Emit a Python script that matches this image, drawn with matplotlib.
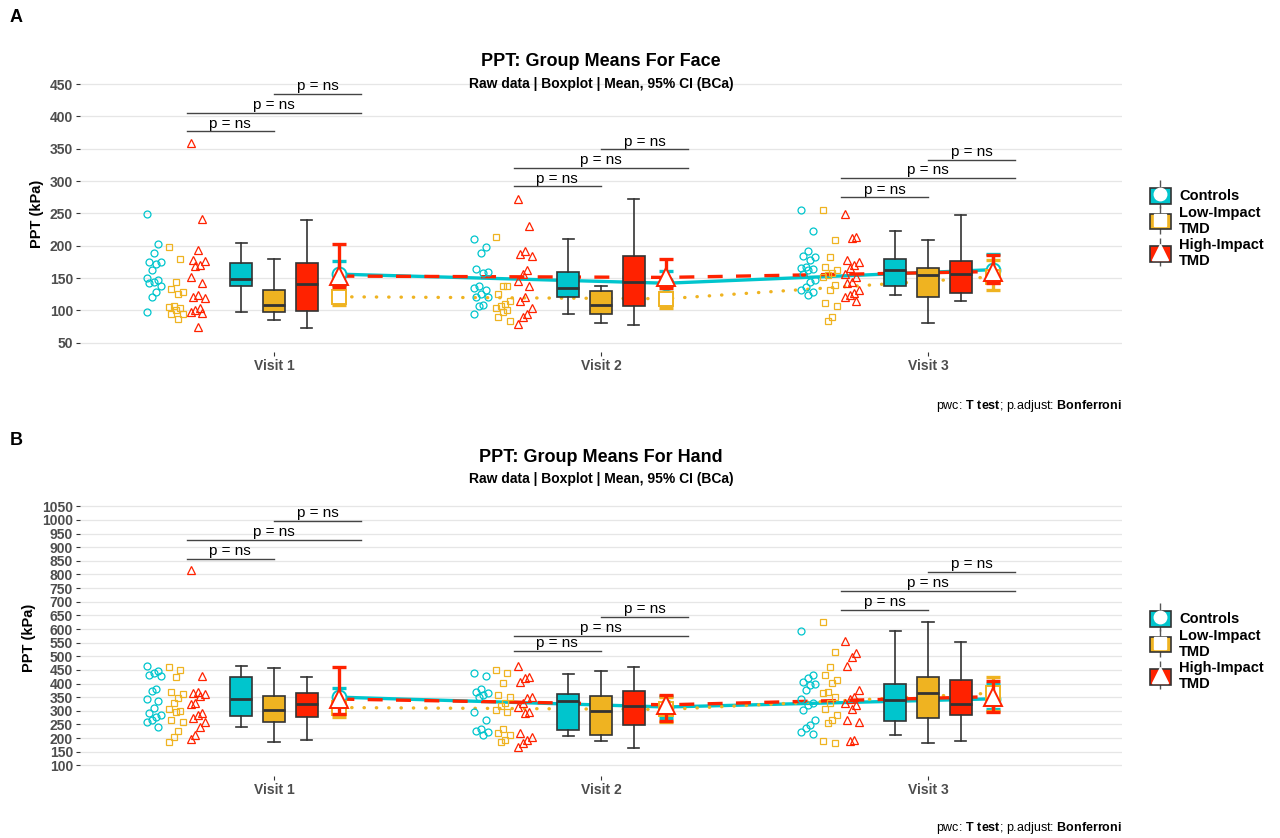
import numpy as np
import matplotlib.pyplot as plt
from matplotlib.patches import Patch
from matplotlib.lines import Line2D

plt.rcParams['font.family'] = ['Liberation Sans', 'DejaVu Sans']
plt.rcParams['mathtext.fontset'] = 'custom'
plt.rcParams['mathtext.rm'] = 'Liberation Sans'
plt.rcParams['mathtext.bf'] = 'Liberation Sans:bold'

visits = ['Visit 1', 'Visit 2', 'Visit 3']
groups = ['Controls', 'Low-Impact\nTMD', 'High-Impact\nTMD']
colors = ['#00C5CD', '#EFB321', '#FF2200']
markers = ['o', 's', '^']

# ---- Face PPT (kPa), raw values per visit ----
face_ctrl = [[249, 203, 189, 175, 175, 172, 162, 150, 147, 144, 142, 138, 129, 120, 98],
             [211, 198, 188, 164, 160, 158, 138, 134, 132, 126, 121, 120, 108, 107, 94],
             [256, 223, 192, 184, 182, 178, 167, 165, 164, 162, 156, 147, 144, 136, 132, 129, 124]]
face_low = [[198, 180, 144, 133, 129, 126, 107, 105, 103, 100, 95, 94, 86],
            [213, 138, 137, 125, 114, 110, 107, 103, 100, 97, 90, 83],
            [256, 209, 182, 167, 163, 158, 155, 152, 139, 132, 112, 107, 90, 83]]
face_high = [[359, 241, 194, 178, 176, 170, 168, 152, 142, 124, 121, 119, 103, 100, 98, 96, 75],
             [273, 231, 192, 187, 184, 162, 156, 146, 137, 120, 115, 104, 94, 90, 79],
             [249, 214, 212, 178, 175, 170, 165, 156, 152, 144, 142, 132, 127, 124, 120, 115]]

# box stats: (whisker low, q1, median, q3, whisker high)
face_box_ctrl = [(97, 137, 148, 174, 204), (94, 120, 134, 160, 211), (123, 138, 163, 180, 223)]
face_box_low = [(85, 97, 108, 132, 179), (81, 94, 108, 130, 137), (81, 121, 155, 166, 209)]
face_box_high = [(73, 99, 141, 173, 240), (78, 107, 144, 184, 272), (115, 127, 156, 176, 247)]

# means with 95% CI (BCa)
face_mean = [[156, 142, 163], [121, 118, 152], [153, 151, 160]]
face_ci_lo = [[140, 128, 145], [108, 103, 131], [136, 134, 143]]
face_ci_hi = [[177, 161, 187], [143, 128, 178], [202, 179, 186]]

# ---- Hand PPT (kPa) ----
hand_ctrl = [[464, 447, 440, 431, 427, 379, 374, 342, 337, 309, 293, 284, 278, 266, 260, 239],
             [437, 428, 379, 370, 364, 358, 352, 297, 266, 232, 226, 223, 211],
             [594, 431, 419, 407, 398, 395, 376, 342, 327, 321, 303, 266, 248, 236, 224, 214]]
hand_low = [[459, 450, 423, 370, 362, 346, 327, 305, 300, 297, 266, 260, 227, 203, 187],
            [450, 440, 401, 358, 352, 330, 318, 303, 297, 232, 217, 211, 193, 187],
            [627, 517, 459, 431, 413, 403, 370, 364, 352, 327, 305, 285, 266, 254, 189, 181]]
hand_high = [[816, 428, 370, 366, 361, 354, 330, 325, 291, 285, 272, 260, 242, 211, 195],
             [464, 425, 419, 407, 352, 346, 327, 315, 297, 293, 217, 205, 193, 181, 166],
             [557, 511, 499, 464, 376, 352, 342, 327, 321, 305, 266, 260, 193, 190]]

hand_box_ctrl = [(239, 281, 342, 425, 464), (208, 230, 337, 362, 434), (211, 264, 340, 398, 594)]
hand_box_low = [(186, 260, 303, 354, 456), (188, 211, 299, 354, 447), (181, 272, 366, 423, 626)]
hand_box_high = [(193, 276, 324, 364, 425), (165, 248, 319, 374, 459), (189, 284, 324, 413, 553)]

hand_mean = [[350, 314, 344], [312, 305, 365], [343, 322, 352]]
hand_ci_lo = [[300, 275, 308], [278, 258, 300], [290, 262, 297]]
hand_ci_hi = [[383, 355, 400], [328, 352, 425], [462, 358, 408]]

# pairwise comparison bracket heights (all p = ns)
face_brackets = [[377, 405, 435], [292, 320, 349], [275, 305, 333]]
hand_brackets = [[857, 926, 996], [520, 575, 644], [670, 739, 809]]


def jitter(n):
    return (np.array([(i * 5) % 7 for i in range(n)]) - 3) * 0.007


def draw_panel(ax, raw, boxes, means, ci_lo, ci_hi, brackets, ylim, yticks):
    xs = np.arange(1, 4)
    # connecting lines of the means
    styles = ['-', (0, (0.1, 3.6)), (0, (4.5, 4))]
    caps = ['butt', 'round', 'butt']
    for g in range(3):
        ax.plot(xs + 0.2, means[g], color=colors[g], lw=2.4, ls=styles[g],
                zorder=2, solid_capstyle='butt', dash_capstyle=caps[g])
    # raw points
    for g in range(3):
        for v in range(3):
            vals = raw[g][v]
            px = v + 1 - 0.367 + g * 0.067 + jitter(len(vals))
            ax.plot(px, vals, ls='none', marker=markers[g], ms=5 if g != 2 else 6,
                    mfc='none', mec=colors[g], mew=0.9, zorder=3)
    # boxplots
    for g in range(3):
        stats = []
        for v in range(3):
            lo, q1, med, q3, hi = boxes[g][v]
            stats.append(dict(whislo=lo, q1=q1, med=med, q3=q3, whishi=hi))
        ax.bxp(stats, positions=xs - 0.1 + g * 0.1, widths=0.067, capwidths=0.035,
               showfliers=False, patch_artist=True, manage_ticks=False,
               boxprops=dict(facecolor=colors[g], edgecolor='#333333', lw=1.2),
               medianprops=dict(color='#333333', lw=2.0),
               whiskerprops=dict(color='#333333', lw=1.2),
               capprops=dict(color='#333333', lw=1.2), zorder=4)
    # means with CI
    msz = [10, 9.5, 13]
    for g in range(3):
        m = np.array(means[g])
        err = [m - np.array(ci_lo[g]), np.array(ci_hi[g]) - m]
        ax.errorbar(xs + 0.2, m, yerr=err, fmt='none', ecolor=colors[g],
                    elinewidth=2.4, capsize=5, capthick=2.4, zorder=5 + g)
        ax.plot(xs + 0.2, m, ls='none', marker=markers[g], ms=msz[g], mfc='white',
                mec=colors[g], mew=1.4, zorder=5.5 + g)
    # significance brackets
    pairs = [(-0.267, 0.0), (-0.267, 0.267), (0.0, 0.267)]
    for v in range(3):
        for (a, b), yb in zip(pairs, brackets[v]):
            ax.plot([v + 1 + a, v + 1 + b], [yb, yb], color='#444444', lw=1.0, zorder=6)
            ax.annotate('p = ns', xy=(v + 1 + (a + b) / 2, yb), xytext=(0, 0.5),
                        textcoords='offset points', ha='center', va='bottom',
                        fontsize=11, color='black')

    ax.set_xlim(0.407, 3.593)
    ax.set_ylim(*ylim)
    ax.set_xticks(xs)
    ax.set_xticklabels(visits, fontweight='bold', color='#4D4D4D', fontsize=10)
    ax.set_yticks(yticks)
    ax.set_yticklabels([str(t) for t in yticks], fontweight='bold', color='#4D4D4D', fontsize=10)
    ax.tick_params(length=3, color='#333333', width=0.8, pad=2)
    ax.grid(axis='y', color='#E6E6E6', lw=0.9)
    ax.set_axisbelow(True)
    for s in ax.spines.values():
        s.set_visible(False)
    ax.set_ylabel('PPT (kPa)', fontweight='bold', fontsize=10.5, labelpad=4)


fig = plt.figure(figsize=(12.8, 8.38), dpi=100)
H = 838.0
ax1 = fig.add_axes([80 / 1280, 1 - 352.4 / H, 1042 / 1280, 276.1 / H])
ax2 = fig.add_axes([80 / 1280, 1 - 775.7 / H, 1042 / 1280, 276.2 / H])

draw_panel(ax1, [face_ctrl, face_low, face_high], [face_box_ctrl, face_box_low, face_box_high],
           face_mean, face_ci_lo, face_ci_hi, face_brackets, (35, 462), list(range(50, 451, 50)))
draw_panel(ax2, [hand_ctrl, hand_low, hand_high], [hand_box_ctrl, hand_box_low, hand_box_high],
           hand_mean, hand_ci_lo, hand_ci_hi, hand_brackets, (62, 1075), list(range(100, 1051, 50)))

cx = 601 / 1280
for ax, lab, ly, title, ty, sy, capy, legy in [
        (ax1, 'A', 18, 'PPT: Group Means For Face', 61, 84, 406, 228),
        (ax2, 'B', 440, 'PPT: Group Means For Hand', 457, 479, 828, 651)]:
    fig.text(10 / 1280, 1 - ly / H, lab, fontsize=13, fontweight='bold', va='center')
    fig.text(cx, 1 - ty / H, title, fontsize=13, fontweight='bold', ha='center', va='center')
    fig.text(cx, 1 - sy / H, 'Raw data | Boxplot | Mean, 95% CI (BCa)', fontsize=10,
             fontweight='bold', ha='center', va='center')
    fig.text(1122 / 1280, 1 - capy / H, r'pwc: $\bf{T\ test}$; p.adjust: $\bf{Bonferroni}$',
             fontsize=9, ha='right', va='center')
    handles = []
    for g in range(3):
        handles.append((Line2D([0], [0], color='#555555', marker='|', ms=20, mew=1.0, ls='none'),
                        Patch(facecolor=colors[g], edgecolor='#333333', lw=1.2),
                        Line2D([0], [0], marker=markers[g], ms=9 if g < 2 else 11, mfc='white',
                               mec='white', ls='none')))
    leg = ax.legend(handles, groups, loc='center left', bbox_to_anchor=(1137 / 1280, 1 - legy / H),
                    bbox_transform=fig.transFigure, frameon=False, handlelength=1.4,
                    handleheight=1.3, labelspacing=0.15, handletextpad=0.6,
                    prop=dict(weight='bold', size=10.5))

fig.savefig('out.png', dpi=100)
